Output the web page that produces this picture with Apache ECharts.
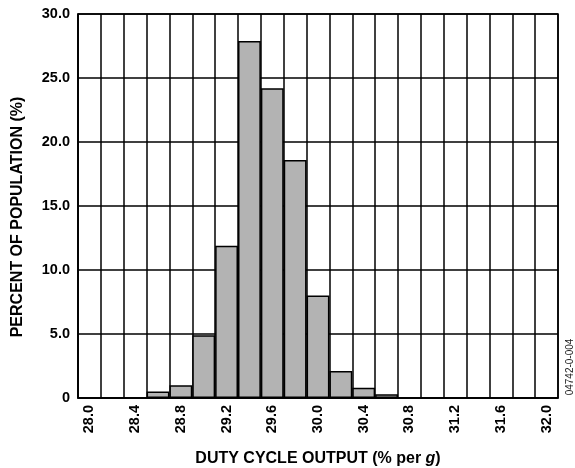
<!DOCTYPE html>
<html>
<head>
<meta charset="utf-8">
<script src="https://cdn.jsdelivr.net/npm/echarts@6/dist/echarts.min.js"></script>
<style>html,body{margin:0;padding:0;background:#fff}#c{width:575px;height:468px}</style>
</head>
<body>
<div id="c"></div>
<script>
var categories = ['28.0','28.2','28.4','28.6','28.8','29.0','29.2','29.4','29.6','29.8','30.0','30.2','30.4','30.6','30.8','31.0','31.2','31.4','31.6','31.8','32.0'];
var percents = [null, null, null, 0.5, 1.0, 4.9, 11.9, 27.9, 24.2, 18.6, 8.0, 2.1, 0.8, 0.3, null, null, null, null, null, null, null];
var yTicks = [0, 5, 10, 15, 20, 25, 30];
var yTickLabels = ['0', '5.0', '10.0', '15.0', '20.0', '25.0', '30.0'];

var font = '"Liberation Sans", Arial, Helvetica, sans-serif';
var chart = echarts.init(document.getElementById('c'), null, {renderer: 'canvas'});
chart.setOption({
  animation: false,
  backgroundColor: '#fff',
  grid: {left: 78, right: 17, top: 14, bottom: 70, outerBoundsMode: 'none', containLabel: false,
    show: true, borderColor: '#000', borderWidth: 1.5, backgroundColor: 'transparent'},
  xAxis: {
    type: 'category',
    data: categories,
    boundaryGap: true,
    name: 'DUTY CYCLE OUTPUT (% per {i|g})',
    nameLocation: 'middle',
    nameGap: 53,
    nameTextStyle: {fontFamily: font, fontWeight: 'bold', fontSize: 16, color: '#000',
      rich: {i: {fontFamily: font, fontWeight: 'bold', fontStyle: 'italic', fontSize: 16, color: '#000'}}},
    axisLine: {show: true, lineStyle: {color: '#000', width: 1.5}},
    axisTick: {show: false},
    axisLabel: {interval: 1, rotate: 90, margin: 7, fontFamily: font, fontWeight: 'bold', fontSize: 14.5, color: '#000'},
    splitLine: {show: true, interval: 0, lineStyle: {color: '#000', width: 1.5}}
  },
  yAxis: {
    type: 'value',
    min: yTicks[0],
    max: yTicks[yTicks.length - 1],
    interval: 5,
    name: 'PERCENT OF POPULATION (%)',
    nameLocation: 'middle',
    nameGap: 52,
    nameTextStyle: {fontFamily: font, fontWeight: 'bold', fontSize: 16, color: '#000', padding: [0, 22, 0, 0]},
    axisLine: {show: true, lineStyle: {color: '#000', width: 1.5}},
    axisTick: {show: false},
    axisLabel: {margin: 8, fontFamily: font, fontWeight: 'bold', fontSize: 14.5, color: '#000',
      formatter: function (v) { var i = yTicks.indexOf(v); return i >= 0 ? yTickLabels[i] : ''; }},
    splitLine: {show: true, lineStyle: {color: '#000', width: 1.5}}
  },
  series: [{
    type: 'bar',
    data: percents,
    barWidth: '100%',
    barGap: '0%',
    itemStyle: {color: '#b3b3b3', borderColor: '#000', borderWidth: 1.5}
  }],
  graphic: [{
    type: 'text',
    x: 570, y: 367,
    rotation: Math.PI / 2,
    style: {text: '04742-0-004', fontFamily: font, fontSize: 10, fill: '#222', align: 'center', verticalAlign: 'middle'}
  }]
});
</script>
</body>
</html>
